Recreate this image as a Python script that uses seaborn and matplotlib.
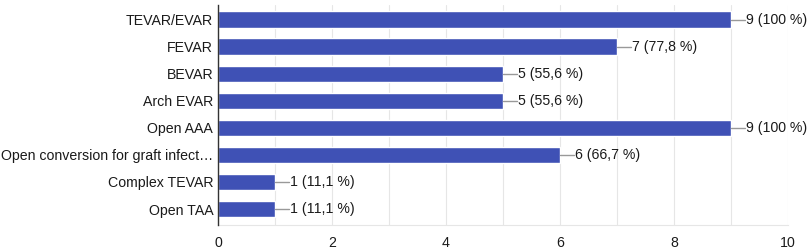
import matplotlib
matplotlib.use("Agg")
import matplotlib.pyplot as plt
import seaborn as sns
import pandas as pd
from matplotlib.ticker import MultipleLocator

categories = ["TEVAR/EVAR", "FEVAR", "BEVAR", "Arch EVAR", "Open AAA",
              "Open conversion for graft infect\u2026", "Complex TEVAR", "Open TAA"]
counts = [9, 7, 5, 5, 9, 6, 1, 1]
percents = ["100 %", "77,8 %", "55,6 %", "55,6 %", "100 %", "66,7 %", "11,1 %", "11,1 %"]
xticks = [0, 2, 4, 6, 8, 10]

sns.set_theme(style="white")
plt.rcParams['font.family'] = ['Liberation Sans', 'DejaVu Sans']

df = pd.DataFrame({"cat": categories, "n": counts})

fig = plt.figure(figsize=(8.07, 2.5), dpi=100)
ax = fig.add_axes([218 / 807, 0.10, 570 / 807, 0.88])

sns.barplot(data=df, y="cat", x="n", orient="h", color="#3f51b5",
            saturation=1, width=0.6, ax=ax, zorder=3)

ax.set_xlim(0, 10)
ax.set_ylim(7.59, -0.536)
ax.set_xticks(xticks)
ax.xaxis.set_minor_locator(MultipleLocator(1))
ax.grid(True, axis="x", which="both", color="#e6e6e6", linewidth=0.8, zorder=0)
ax.set_axisbelow(True)
for s in ["top", "right"]:
    ax.spines[s].set_visible(False)
ax.spines["bottom"].set_color("#e6e6e6")
ax.spines["bottom"].set_linewidth(0.8)
ax.spines["left"].set_color("#333333")
ax.spines["left"].set_linewidth(1.0)
ax.spines["left"].set_zorder(5)
ax.set_xlabel("")
ax.set_ylabel("")
ax.tick_params(axis="both", which="both", length=0, labelsize=10.2, colors="#1a1a1a")
ax.tick_params(axis="y", pad=3.5)
ax.tick_params(axis="x", pad=8)

for i, (n, p) in enumerate(zip(counts, percents)):
    ax.plot([n, n + 0.25], [i, i], color="#999999", linewidth=1, zorder=4, clip_on=False)
    ax.text(n + 0.26, i, f"{n} ({p})", va="center", ha="left", fontsize=10.2,
            color="#1a1a1a", clip_on=False)

fig.savefig("out.png", dpi=100)
